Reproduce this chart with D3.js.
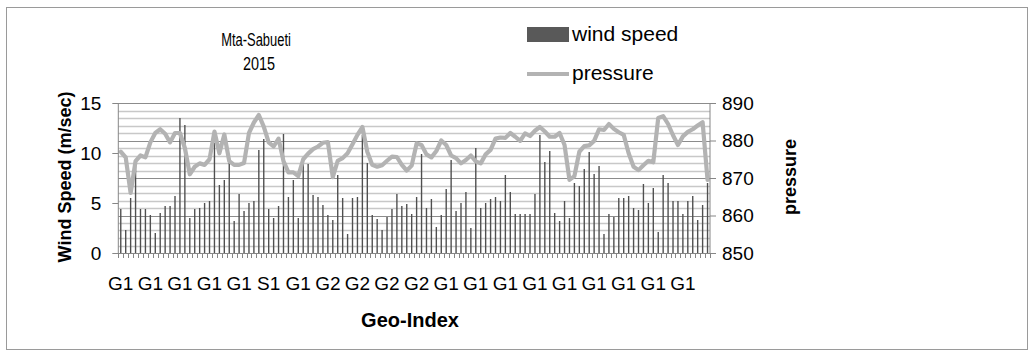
<!DOCTYPE html>
<html><head><meta charset="utf-8">
<script src="https://cdn.jsdelivr.net/npm/d3@7/dist/d3.min.js"></script>
<style>
html,body{margin:0;padding:0;background:#fff;}
svg{display:block;}
text{font-family:"Liberation Sans","Arial",sans-serif;fill:#000;}
</style></head>
<body>
<svg id="chart" width="1035" height="359"></svg>
<script>
const chartTitle = ["Mta-Sabueti", "2015"];
const tickLabels = ["G1","G1","G1","G1","G1","S1","G1","G2","G2","G2","G2","G1","G1","G1","G1","G1","G1","G1","G1","G1"];
const windSpeed = [
 4.4,2.3,5.5,9.0,4.4,4.4,3.8,2.0,4.0,4.7,4.7,5.7,13.5,12.8,3.5,4.4,4.5,5.0,5.2,11.0,
 6.8,7.3,9.0,3.2,5.9,4.2,5.0,5.2,10.3,11.4,4.4,3.5,4.7,11.9,5.6,7.3,3.5,9.5,8.9,5.8,
 5.6,4.8,3.8,3.3,7.8,5.5,1.9,5.5,5.6,11.8,9.0,3.8,3.4,2.3,3.6,4.4,5.9,4.7,4.9,3.9,
 5.6,9.9,4.5,5.4,2.6,3.8,6.4,9.3,4.2,5.0,6.1,2.5,10.5,4.5,5.0,5.4,5.6,5.2,7.8,6.1,
 3.9,3.9,3.9,3.9,5.9,11.8,9.1,10.2,4.0,3.2,5.2,3.5,7.0,6.7,8.4,10.1,7.9,8.7,1.9,3.9,
 3.6,5.5,5.5,5.7,4.5,4.3,6.9,5.0,6.5,2.1,7.8,7.0,5.2,5.2,3.9,5.2,5.7,3.3,4.8,7.0
];
const pressure = [
 877,875.5,866,874.5,876,875.5,879.5,882,883,881.8,879.5,882,882,878,871,873,873.9,873.5,875,882.4,
 876.6,881.6,874.5,873.5,873.5,874,882,884.8,886.8,883.7,879.5,878.4,880.5,874.5,871.5,871.5,870.5,875,876.5,877.7,
 878.4,879.4,879.6,870.2,874.6,875.3,876.6,879,881.5,883.6,877,873.5,873,873.4,874.6,875.7,875.6,873.5,872,873.3,
 879.2,878.8,876.3,875.5,877.2,880,878.8,876,875.3,873.9,874.8,876,874.4,873.9,876.3,877.5,880.5,880.8,880.7,882,
 881,879.9,881.9,881.2,882.6,883.6,882.4,881,881,882,878.8,869.5,870.5,877,878.5,878.7,879.9,883,882.8,884.4,
 883.1,882.2,881.5,876.6,873,872.1,873.4,874.6,874.2,886,886.5,884.4,881.4,878.8,881.1,882.3,883,884,884.9,869.5
];
const windTicks = [0, 5, 10, 15];
const pressureTicks = [850, 860, 870, 880, 890];
const labelEvery = 6;
const categories = windSpeed.map((d, i) => tickLabels[Math.floor(i / labelEvery)] + "#" + i);

const svg = d3.select("#chart");
const L = 118.3, R = 710, T = 103, B = 253;

// outer border
svg.append("rect").attr("x", 6.5).attr("y", 7.5).attr("width", 1021).attr("height", 342)
  .attr("fill", "#fff").attr("stroke", "#9a9a9a").attr("stroke-width", 1);

const x = d3.scaleBand().domain(categories).range([L, R]).paddingInner(0.72).paddingOuter(0.36);
const yL = d3.scaleLinear().domain([0, 15]).range([B, T]);
const yR = d3.scaleLinear().domain([850, 890]).range([B, T]);

// minor gridlines (every 2 hPa)
const minor = d3.range(852, 890, 2).filter(v => v % 10 !== 0);
svg.append("g").selectAll("line").data(minor).join("line")
  .attr("x1", L).attr("x2", R).attr("y1", d => Math.round(yR(d)) + 0.5).attr("y2", d => Math.round(yR(d)) + 0.5)
  .attr("stroke", "#c8c8c8").attr("stroke-width", 1.4);
// major gridlines
svg.append("g").selectAll("line").data(pressureTicks.slice(1)).join("line")
  .attr("x1", L).attr("x2", R).attr("y1", d => Math.round(yR(d)) + 0.5).attr("y2", d => Math.round(yR(d)) + 0.5)
  .attr("stroke", "#8c8c8c").attr("stroke-width", 1);

// bars
svg.append("g").selectAll("rect").data(windSpeed).join("rect")
  .attr("x", (d, i) => x(categories[i]))
  .attr("width", x.bandwidth())
  .attr("y", d => yL(d))
  .attr("height", d => B - yL(d))
  .attr("fill", "#4f4f4f");

// pressure line
const line = d3.line()
  .x((d, i) => x(categories[i]) + x.bandwidth() / 2)
  .y(d => yR(d));
svg.append("path").datum(pressure).attr("d", line)
  .attr("fill", "none").attr("stroke", "#b3b3b3").attr("stroke-width", 4.2)
  .attr("stroke-linejoin", "round").attr("stroke-linecap", "round");

// axes
const axisColor = "#868686";
const gx = svg.append("g").attr("transform", `translate(0,${B})`)
  .call(d3.axisBottom(x).tickSize(0).tickFormat(""));
gx.select(".domain").attr("stroke", axisColor);
// category boundary tick marks
svg.append("g").selectAll("line").data(d3.range(categories.length + 1)).join("line")
  .attr("x1", i => Math.round(L + i * x.step()) + 0.5).attr("x2", i => Math.round(L + i * x.step()) + 0.5)
  .attr("y1", B).attr("y2", B + 5).attr("stroke", axisColor).attr("stroke-width", 1);
// category labels
svg.append("g").selectAll("text").data(tickLabels).join("text")
  .attr("x", (d, k) => x(categories[k * labelEvery]) + x.bandwidth() / 2)
  .attr("y", 290).attr("text-anchor", "middle").attr("font-size", 19).text(d => d);

const gl = svg.append("g").attr("transform", `translate(${L},0)`)
  .call(d3.axisLeft(yL).tickValues(windTicks).tickSize(6).tickPadding(11));
gl.select(".domain").attr("stroke", axisColor).attr("d", `M0,${T}V${B}`);
gl.selectAll(".tick line").attr("stroke", axisColor);
gl.selectAll(".tick text").attr("font-size", 19).attr("font-family", "Liberation Sans, sans-serif");

const gr = svg.append("g").attr("transform", `translate(${R},0)`)
  .call(d3.axisRight(yR).tickValues(pressureTicks).tickSize(6).tickPadding(6));
gr.select(".domain").attr("stroke", axisColor).attr("d", `M0,${T}V${B}`);
gr.selectAll(".tick line").attr("stroke", axisColor);
gr.selectAll(".tick text").attr("font-size", 19).attr("font-family", "Liberation Sans, sans-serif");

// titles (narrowed horizontally to mimic the condensed face)
svg.append("text").attr("transform", "translate(256,46) scale(0.7,1)").attr("text-anchor", "middle")
  .attr("font-size", 18.5).text(chartTitle[0]);
svg.append("text").attr("transform", "translate(259,70) scale(0.78,1)").attr("text-anchor", "middle")
  .attr("font-size", 18.5).text(chartTitle[1]);

svg.append("text").attr("transform", "translate(71,177) rotate(-90)").attr("text-anchor", "middle")
  .attr("font-size", 18).attr("font-weight", "bold").text("Wind Speed (m/sec)");
svg.append("text").attr("transform", "translate(796,177) rotate(-90)").attr("text-anchor", "middle")
  .attr("font-size", 18).attr("font-weight", "bold").text("pressure");
svg.append("text").attr("x", 410).attr("y", 327).attr("text-anchor", "middle")
  .attr("font-size", 20).attr("font-weight", "bold").text("Geo-Index");

// legend
const lg = svg.append("g");
lg.append("rect").attr("x", 527).attr("y", 27).attr("width", 42).attr("height", 15).attr("fill", "#595959");
lg.append("text").attr("x", 572).attr("y", 41).attr("font-size", 21).text("wind speed");
lg.append("line").attr("x1", 527).attr("x2", 569).attr("y1", 74).attr("y2", 74)
  .attr("stroke", "#b3b3b3").attr("stroke-width", 4);
lg.append("text").attr("x", 572).attr("y", 80).attr("font-size", 21).text("pressure");
</script>
</body></html>
